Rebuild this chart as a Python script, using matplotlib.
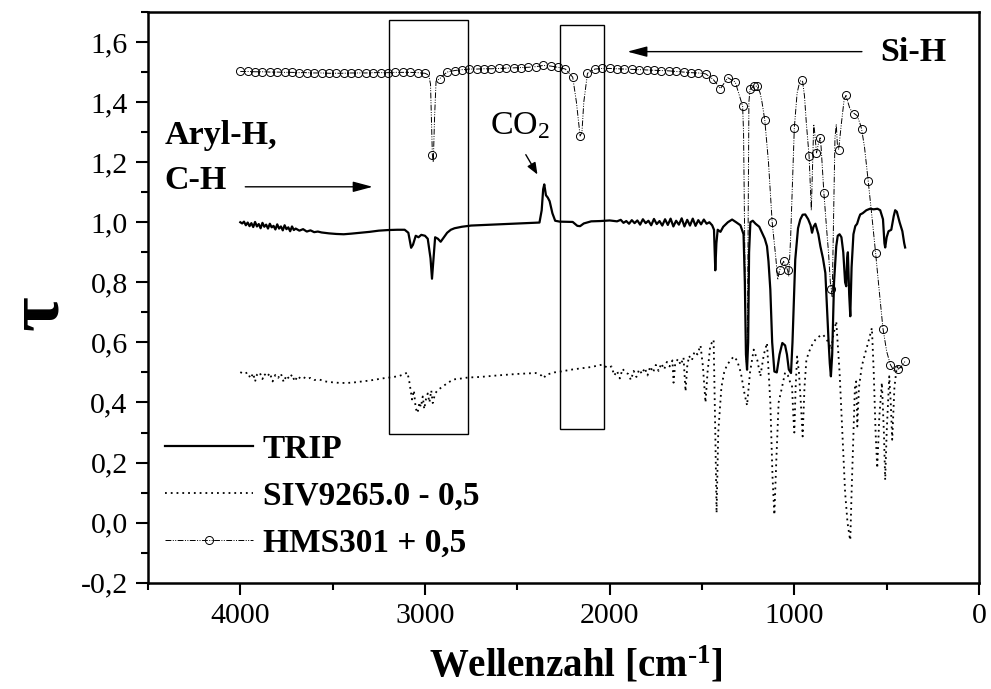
import numpy as np
import matplotlib
matplotlib.use('Agg')
import matplotlib.pyplot as plt
from matplotlib.patches import Rectangle
from matplotlib.ticker import MultipleLocator, FuncFormatter

plt.rcParams['font.family'] = ['Liberation Serif', 'DejaVu Serif']
plt.rcParams['mathtext.fontset'] = 'custom'
plt.rcParams['mathtext.rm'] = 'Liberation Serif'
plt.rcParams['mathtext.bf'] = 'Liberation Serif:bold'
plt.rcParams['mathtext.default'] = 'regular'

# TRIP spectrum (wavenumber, transmission)
trip_wn = [4000, 3990, 3980, 3970, 3960, 3950, 3940, 3930, 3920, 3910, 3900, 3890, 3880,
           3870, 3860, 3850, 3840, 3830, 3820, 3810, 3800, 3790, 3780, 3770, 3760, 3750,
           3740, 3730, 3720, 3710, 3700, 3680, 3660, 3640, 3620, 3600, 3580, 3560, 3520,
           3480, 3440, 3400, 3350, 3300, 3250, 3200, 3150, 3110, 3090, 3075, 3065, 3050,
           3035, 3020, 3000, 2985, 2970, 2962, 2955, 2945, 2930, 2915, 2900, 2880, 2860,
           2840, 2800, 2750, 2600, 2450, 2380, 2368, 2360, 2354, 2345, 2335, 2325, 2310,
           2295, 2270, 2200, 2175, 2160, 2140, 2100, 2050, 2000, 1960, 1940, 1925, 1910,
           1895, 1880, 1865, 1850, 1835, 1820, 1805, 1790, 1775, 1760, 1745, 1730, 1715,
           1700, 1685, 1670, 1655, 1640, 1625, 1610, 1595, 1580, 1565, 1550, 1535, 1520,
           1505, 1490, 1475, 1460, 1445, 1435, 1428, 1422, 1415, 1400, 1385, 1360, 1337,
           1315, 1292, 1275, 1268, 1262, 1256, 1250, 1245, 1238, 1225, 1210, 1190, 1175,
           1160, 1148, 1140, 1130, 1120, 1108, 1095, 1080, 1065, 1050, 1040, 1030, 1018,
           1010, 995, 980, 968, 955, 941, 925, 912, 904, 896, 886, 870, 859, 845, 832, 822,
           815, 808, 802, 795, 785, 773, 765, 755, 745, 735, 725, 719, 714, 710, 703, 697,
           690, 680, 670, 660, 650, 643, 630, 610, 590, 570, 550, 535, 520, 512, 508, 500,
           490, 475, 462, 454, 445, 430, 415, 405, 400]
trip_tau = [1.000, 0.996, 1.002, 0.990, 0.999, 0.987, 0.997, 0.984, 1.001, 0.986, 0.994,
            0.980, 0.998, 0.985, 0.992, 0.979, 0.995, 0.983, 0.988, 0.976, 0.993, 0.979,
            0.986, 0.973, 0.990, 0.977, 0.983, 0.970, 0.986, 0.974, 0.979, 0.972, 0.977,
            0.969, 0.973, 0.967, 0.969, 0.966, 0.963, 0.961, 0.960, 0.962, 0.965, 0.968,
            0.972, 0.974, 0.975, 0.975, 0.965, 0.915, 0.925, 0.955, 0.950, 0.958, 0.955,
            0.945, 0.880, 0.812, 0.870, 0.950, 0.945, 0.935, 0.948, 0.965, 0.975, 0.980,
            0.985, 0.989, 0.993, 0.997, 0.999, 1.040, 1.110, 1.126, 1.090, 1.082, 1.070,
            1.030, 1.005, 1.002, 1.001, 0.988, 0.987, 0.996, 1.003, 1.004, 1.006, 1.003,
            1.008, 0.998, 1.004, 0.995, 1.007, 0.997, 1.006, 0.992, 1.010, 0.997, 1.005,
            0.990, 1.011, 0.994, 1.004, 0.989, 1.010, 0.991, 1.012, 0.986, 1.005, 0.992,
            1.013, 0.986, 1.008, 0.989, 1.012, 0.988, 1.007, 0.993, 1.009, 0.995, 1.000,
            0.990, 0.975, 0.840, 0.930, 0.975, 0.968, 0.985, 1.000, 1.009, 1.000, 0.990,
            0.960, 0.800, 0.560, 0.509, 0.600, 0.900, 1.000, 1.005, 0.995, 0.985, 0.965,
            0.945, 0.920, 0.870, 0.776, 0.600, 0.503, 0.500, 0.560, 0.598, 0.590, 0.560,
            0.510, 0.498, 0.600, 0.876, 0.980, 1.009, 1.025, 1.026, 1.010, 0.990, 0.965,
            0.985, 0.995, 0.960, 0.920, 0.880, 0.831, 0.700, 0.609, 0.530, 0.487, 0.560,
            0.800, 0.920, 0.955, 0.960, 0.950, 0.900, 0.800, 0.787, 0.880, 0.900, 0.760,
            0.687, 0.850, 0.960, 0.987, 0.995, 1.015, 1.026, 1.030, 1.040, 1.045, 1.043,
            1.045, 1.040, 1.010, 0.930, 0.916, 0.950, 0.970, 0.975, 1.020, 1.040, 1.035,
            1.000, 0.970, 0.930, 0.916]

# SIV9265.0 spectrum, shifted by -0.5
siv_wn = [4000, 3980, 3960, 3945, 3930, 3920, 3910, 3895, 3880, 3870, 3855, 3840, 3825,
          3810, 3795, 3780, 3765, 3750, 3735, 3720, 3705, 3690, 3675, 3660, 3640, 3620,
          3600, 3570, 3540, 3500, 3460, 3420, 3380, 3340, 3300, 3260, 3220, 3180, 3140,
          3110, 3095, 3085, 3070, 3060, 3050, 3040, 3030, 3022, 3012, 3004, 2995, 2985,
          2976, 2966, 2958, 2945, 2931, 2900, 2870, 2842, 2800, 2769, 2700, 2607, 2500,
          2400, 2370, 2357, 2345, 2300, 2265, 2200, 2100, 2040, 2010, 1990, 1975, 1960,
          1945, 1930, 1915, 1900, 1885, 1870, 1855, 1840, 1825, 1810, 1795, 1780, 1765,
          1750, 1735, 1720, 1705, 1690, 1675, 1660, 1654, 1645, 1630, 1615, 1600, 1589,
          1580, 1570, 1555, 1540, 1525, 1508, 1495, 1481, 1470, 1455, 1437, 1428, 1421,
          1412, 1395, 1380, 1364, 1345, 1329, 1310, 1290, 1270, 1256, 1240, 1220, 1200,
          1184, 1165, 1148, 1130, 1118, 1108, 1098, 1085, 1067, 1050, 1035, 1022, 1013,
          1005, 1000, 993, 985, 975, 965, 955, 945, 935, 923, 905, 885, 865, 845, 825,
          808, 800, 790, 773, 755, 740, 725, 712, 700, 697, 690, 680, 672, 665, 659, 650,
          635, 616, 600, 580, 570, 560, 551, 540, 526, 515, 508, 500, 486, 478, 470, 458,
          445, 430, 418, 400]
siv_tau = [0.501, 0.495, 0.500, 0.480, 0.497, 0.470, 0.492, 0.500, 0.478, 0.495, 0.485,
           0.498, 0.470, 0.492, 0.482, 0.496, 0.468, 0.490, 0.478, 0.493, 0.470, 0.488,
           0.480, 0.485, 0.478, 0.482, 0.475, 0.476, 0.470, 0.467, 0.465, 0.465, 0.467,
           0.470, 0.473, 0.477, 0.481, 0.484, 0.488, 0.495, 0.500, 0.470, 0.410, 0.440,
           0.380, 0.365, 0.400, 0.385, 0.420, 0.378, 0.410, 0.430, 0.400, 0.440, 0.398,
           0.430, 0.441, 0.455, 0.468, 0.477, 0.480, 0.483, 0.485, 0.490, 0.495, 0.498,
           0.490, 0.481, 0.492, 0.500, 0.503, 0.510, 0.518, 0.526, 0.515, 0.520, 0.490,
           0.505, 0.480, 0.512, 0.500, 0.495, 0.475, 0.505, 0.485, 0.510, 0.495, 0.515,
           0.490, 0.520, 0.500, 0.525, 0.505, 0.530, 0.510, 0.535, 0.520, 0.540, 0.466,
           0.530, 0.545, 0.525, 0.550, 0.437, 0.520, 0.555, 0.540, 0.570, 0.560, 0.590,
           0.520, 0.400, 0.500, 0.590, 0.609, 0.300, 0.032, 0.300, 0.450, 0.500, 0.526,
           0.540, 0.553, 0.540, 0.500, 0.430, 0.390, 0.500, 0.576, 0.540, 0.487, 0.560,
           0.598, 0.400, 0.150, 0.026, 0.200, 0.400, 0.450, 0.500, 0.490, 0.466, 0.460,
           0.350, 0.300, 0.450, 0.553, 0.500, 0.400, 0.287, 0.450, 0.540, 0.565, 0.590,
           0.610, 0.620, 0.626, 0.610, 0.590, 0.576, 0.620, 0.670, 0.500, 0.300, 0.100,
           0.000, -0.050, -0.058, 0.100, 0.300, 0.450, 0.470, 0.320, 0.450, 0.520, 0.565,
           0.600, 0.648, 0.500, 0.300, 0.181, 0.350, 0.466, 0.300, 0.142, 0.300, 0.487,
           0.400, 0.276, 0.450, 0.520, 0.510, 0.520, 0.525]

# HMS301 spectrum, shifted by +0.5
hms_wn = [4000, 3960, 3920, 3880, 3840, 3800, 3760, 3720, 3680, 3640, 3600, 3560, 3520,
          3480, 3440, 3400, 3360, 3320, 3280, 3240, 3200, 3160, 3120, 3080, 3040, 3000,
          2980, 2970, 2960, 2955, 2948, 2940, 2920, 2900, 2880, 2840, 2800, 2760, 2720,
          2680, 2640, 2600, 2560, 2520, 2480, 2440, 2400, 2360, 2320, 2280, 2240, 2200,
          2180, 2160, 2150, 2140, 2120, 2080, 2040, 2000, 1960, 1920, 1880, 1840, 1800,
          1760, 1720, 1680, 1640, 1600, 1560, 1520, 1480, 1440, 1400, 1360, 1320, 1280,
          1275, 1268, 1262, 1258, 1254, 1250, 1246, 1240, 1220, 1200, 1185, 1175, 1160,
          1140, 1120, 1100, 1090, 1080, 1058, 1036, 1030, 1020, 1000, 985, 970, 960, 955,
          945, 935, 920, 912, 908, 903, 895, 890, 880, 870, 860, 855, 840, 825, 815, 805,
          800, 795, 788, 780, 773, 767, 760, 745, 730, 720, 710, 700, 690, 676, 660, 645,
          636, 620, 600, 580, 560, 540, 520, 500, 480, 460, 440, 420, 400]
hms_tau = [1.502, 1.502, 1.501, 1.501, 1.500, 1.500, 1.499, 1.499, 1.498, 1.498, 1.497,
           1.497, 1.496, 1.496, 1.496, 1.497, 1.497, 1.497, 1.498, 1.498, 1.498, 1.499,
           1.499, 1.499, 1.498, 1.496, 1.490, 1.460, 1.225, 1.200, 1.350, 1.470, 1.478,
           1.490, 1.500, 1.505, 1.508, 1.510, 1.510, 1.511, 1.511, 1.512, 1.513, 1.514,
           1.515, 1.516, 1.518, 1.522, 1.520, 1.516, 1.510, 1.483, 1.400, 1.287, 1.300,
           1.400, 1.496, 1.510, 1.512, 1.512, 1.511, 1.510, 1.509, 1.508, 1.507, 1.506,
           1.505, 1.504, 1.502, 1.500, 1.498, 1.497, 1.494, 1.476, 1.445, 1.481, 1.467,
           1.387, 1.300, 0.900, 0.550, 0.520, 0.600, 1.000, 1.400, 1.442, 1.453, 1.453,
           1.430, 1.400, 1.340, 1.200, 1.000, 0.880, 0.809, 0.840, 0.870, 0.840, 0.820,
           0.950, 1.315, 1.430, 1.470, 1.472, 1.468, 1.420, 1.330, 1.220, 1.100, 1.040,
           1.150, 1.326, 1.300, 1.231, 1.260, 1.281, 1.250, 1.098, 0.976, 0.900, 0.800,
           0.778, 0.750, 1.000, 1.280, 1.326, 1.260, 1.242, 1.330, 1.410, 1.422, 1.400,
           1.380, 1.370, 1.362, 1.355, 1.330, 1.311, 1.250, 1.137, 1.020, 0.898, 0.770,
           0.646, 0.570, 0.526, 0.505, 0.510, 0.520, 0.537]
# wavenumbers of the HMS301 points that carry a circle
hms_circles = [4000, 3960, 3920, 3880, 3840, 3800, 3760, 3720, 3680, 3640, 3600, 3560,
               3520, 3480, 3440, 3400, 3360, 3320, 3280, 3240, 3200, 3160, 3120, 3080,
               3040, 3000, 2960, 2920, 2880, 2840, 2800, 2760, 2720, 2680, 2640, 2600,
               2560, 2520, 2480, 2440, 2400, 2360, 2320, 2280, 2240, 2200, 2160, 2120,
               2080, 2040, 2000, 1960, 1920, 1880, 1840, 1800, 1760, 1720, 1680, 1640,
               1600, 1560, 1520, 1480, 1440, 1400, 1360, 1320, 1280, 1240, 1220, 1200,
               1160, 1120, 1080, 1058, 1036, 1000, 960, 920, 880, 860, 840, 800, 760,
               720, 676, 636, 600, 560, 520, 480, 440, 400]

# marked regions (wavenumber range, tau range)
boxes = [((2766, 3196), (0.296, 1.672)), ((2031, 2269), (0.313, 1.658))]

fig = plt.figure(figsize=(9.91, 6.89), dpi=100)
ax = fig.add_axes([0.1493, 0.1543, 0.8386, 0.8283])

ax.plot(trip_wn, trip_tau, color='black', lw=1.6, label='TRIP')
ax.plot(siv_wn, siv_tau, color='black', lw=1.3, linestyle=(0, (1, 2.2)),
        label='SIV9265.0 - 0,5')
mark = np.isin(hms_wn, hms_circles)
ax.plot(hms_wn, hms_tau, color='black', lw=0.7, linestyle=(0, (6, 1.5, 1, 1.5, 1, 1.5)),
        marker='o', markersize=5.8, markerfacecolor='none', markeredgewidth=0.7,
        markevery=list(mark), label='HMS301 + 0,5')

for (x0, x1), (y0, y1) in boxes:
    ax.add_patch(Rectangle((x0, y0), x1 - x0, y1 - y0, fill=False, lw=1.0, color='black'))

ax.set_xlim(4500, 0)
ax.set_ylim(-0.2, 1.7)
ax.xaxis.set_major_locator(MultipleLocator(1000))
ax.xaxis.set_minor_locator(MultipleLocator(500))
ax.yaxis.set_major_locator(MultipleLocator(0.2))
ax.yaxis.set_minor_locator(MultipleLocator(0.1))
ax.yaxis.set_major_formatter(FuncFormatter(lambda v, p: f'{v:.1f}'.replace('.', ',')))
ax.tick_params(which='both', direction='out', width=1.5, labelsize=21.5, top=False, right=False)
ax.tick_params(which='major', length=8.6, pad=6)
ax.tick_params(which='minor', length=4.8)
for s in ax.spines.values():
    s.set_linewidth(1.8)

arrow = dict(arrowstyle='-|>,head_length=0.6,head_width=0.16', color='black', lw=1.0,
             shrinkA=0, shrinkB=0, mutation_scale=20)
ax.annotate('', xy=(1904, 1.568), xytext=(634, 1.568), arrowprops=arrow)
ax.annotate('', xy=(3283, 1.118), xytext=(3973, 1.118), arrowprops=arrow)
ax.annotate('', xy=(2391, 1.159), xytext=(2454, 1.225),
            arrowprops=dict(arrowstyle='-|>,head_length=0.5,head_width=0.2', color='black',
                            lw=1.0, shrinkA=0, shrinkB=0, mutation_scale=14))

ax.text(535, 1.537, 'Si-H', fontsize=24.5, fontweight='bold', ha='left', va='baseline')
ax.text(4411, 1.262, 'Aryl-H,', fontsize=24.5, fontweight='bold', ha='left', va='baseline')
ax.text(4411, 1.112, 'C-H', fontsize=24.5, fontweight='bold', ha='left', va='baseline')
ax.text(2649, 1.292, 'CO$_2$', fontsize=24.5, ha='left', va='baseline')

leg = ax.legend(loc='lower left', bbox_to_anchor=(0.0204, 0.042), frameon=False,
                prop={'size': 24, 'weight': 'bold'}, handlelength=2.64, handletextpad=0.3,
                labelspacing=0.48, borderpad=0, borderaxespad=0, numpoints=1)

fig.text(576 / 991, 1 - 676 / 689, r'Wellenzahl [cm$^{\text{-}1}$]', fontsize=28,
         fontweight='bold', ha='center', va='baseline')
fig.text(39 / 991, 1 - 313 / 689, 'τ', fontsize=54, fontweight='bold', rotation=90,
         ha='center', va='center')

fig.savefig('out.png', dpi=100)
